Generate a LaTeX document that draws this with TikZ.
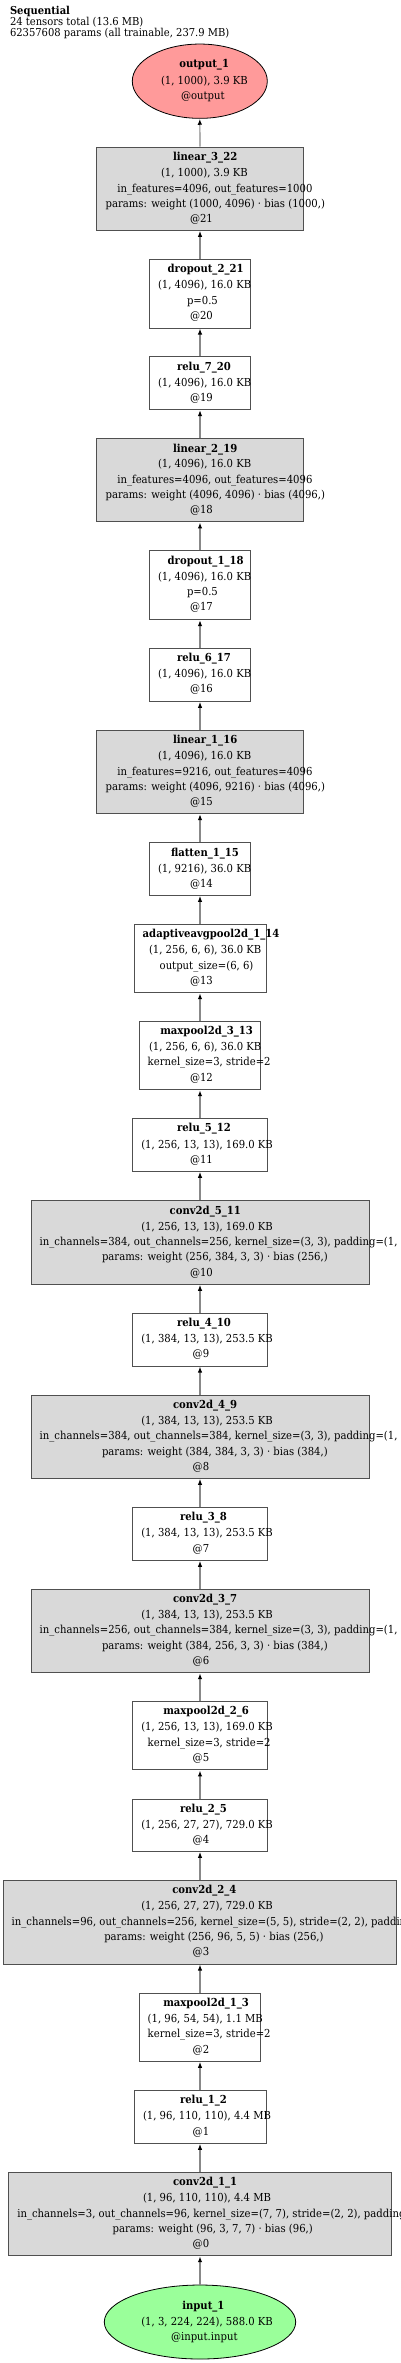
\documentclass[tikz,border=0pt]{standalone}
\usepackage{fontspec}
\setmainfont[FakeStretch=0.915]{DejaVu Serif}
\usetikzlibrary{shapes.geometric,arrows.meta}
\definecolor{outred}{HTML}{FF9A9A}
\definecolor{ingreen}{HTML}{9AFF9A}
\definecolor{grayfill}{HTML}{D9D9D9}
\definecolor{boxline}{HTML}{505050}
\definecolor{edgeline}{HTML}{888888}
\newcommand\nfs{\fontsize{11}{13}\selectfont}
\newcommand\hfs{\fontsize{10.9}{13}\selectfont}
\newcommand\tline[4]{\node[txt] (#1) at (#2,#3+3.6) {#4};}
\newcommand\bline[4]{\node[txt,font=\nfs\bfseries] (#1) at (#2,#3+3.6) {#4};}
\tikzset{
  txt/.style={anchor=base west, inner sep=0pt, outer sep=0pt, font=\nfs},
  boxbase/.style={rectangle, draw=boxline, line width=1pt, inner sep=0pt},
  gbox/.style={boxbase, fill=grayfill},
  wbox/.style={boxbase, fill=white},
  outnode/.style={ellipse, draw=black, line width=0.8pt, fill=outred, inner sep=0pt},
  innode/.style={ellipse, draw=black, line width=0.8pt, fill=ingreen, inner sep=0pt},
  edge/.style={draw=edgeline, line width=1.2pt, -{Latex[length=6pt,width=4.5pt,color=black]}}
}
\begin{document}
\begin{tikzpicture}[x=1pt,y=-1pt]
\useasboundingbox[fill=white] (0,0) rectangle (400,2363);
% header
\node[txt,font=\hfs\bfseries] (h1) at (10,11+3.6) {Sequential};
\node[txt,font=\hfs] (h2) at (10,22.3+3.6) {24 tensors total (13.6 MB)};
\node[txt,font=\hfs] (h3) at (10,33.3+3.6) {62357608 params (all trainable, 237.9 MB)};
% shapes
\node[outnode, minimum width=135pt, minimum height=74.3pt] (out) at (199.8,81.2) {};
\node[gbox, minimum width=206.6pt, minimum height=83.3pt] (l3) at (200,188.7) {};
\node[wbox, minimum width=101.4pt, minimum height=68.7pt] (d2) at (200,293.7) {};
\node[wbox, minimum width=101.4pt, minimum height=52.7pt] (r7) at (200,383.3) {};
\node[gbox, minimum width=206.6pt, minimum height=83.3pt] (l2) at (200,480.3) {};
\node[wbox, minimum width=101.4pt, minimum height=68.7pt] (d1) at (200,585.3) {};
\node[wbox, minimum width=101.4pt, minimum height=52.7pt] (r6) at (200,675) {};
\node[gbox, minimum width=206.6pt, minimum height=83.3pt] (l1) at (200,772) {};
\node[wbox, minimum width=101.4pt, minimum height=52.7pt] (fl) at (200,869) {};
\node[wbox, minimum width=132pt, minimum height=68.4pt] (ap) at (200,958.5) {};
\node[wbox, minimum width=121.4pt, minimum height=68pt] (m3) at (200,1055.7) {};
\node[wbox, minimum width=135pt, minimum height=52.6pt] (r5) at (200,1145) {};
\node[gbox, minimum width=338pt, minimum height=83.6pt] (c5) at (200,1242.5) {};
\node[wbox, minimum width=135pt, minimum height=52.7pt] (r4) at (200,1339.7) {};
\node[gbox, minimum width=338pt, minimum height=83.3pt] (c4) at (200,1436.7) {};
\node[wbox, minimum width=135pt, minimum height=53pt] (r3) at (200,1533.8) {};
\node[gbox, minimum width=338pt, minimum height=83.4pt] (c3) at (200,1631) {};
\node[wbox, minimum width=135pt, minimum height=68.3pt] (m2) at (200,1735.8) {};
\node[wbox, minimum width=135pt, minimum height=52.3pt] (r2) at (200,1825.2) {};
\node[gbox, minimum width=393.4pt, minimum height=83.7pt] (c2) at (200,1922.2) {};
\node[wbox, minimum width=121.4pt, minimum height=68pt] (m1) at (200,2027.3) {};
\node[wbox, minimum width=132pt, minimum height=53pt] (r1) at (200,2116.8) {};
\node[gbox, minimum width=383.4pt, minimum height=83.4pt] (c1) at (200,2214) {};
\node[innode, minimum width=191.4pt, minimum height=74pt] (in) at (200,2322) {};
% edges
\draw[edge] (l3.north) -- (out.south);
\draw[edge] (d2.north) -- (l3.south);
\draw[edge] (r7.north) -- (d2.south);
\draw[edge] (l2.north) -- (r7.south);
\draw[edge] (d1.north) -- (l2.south);
\draw[edge] (r6.north) -- (d1.south);
\draw[edge] (l1.north) -- (r6.south);
\draw[edge] (fl.north) -- (l1.south);
\draw[edge] (ap.north) -- (fl.south);
\draw[edge] (m3.north) -- (ap.south);
\draw[edge] (r5.north) -- (m3.south);
\draw[edge] (c5.north) -- (r5.south);
\draw[edge] (r4.north) -- (c5.south);
\draw[edge] (c4.north) -- (r4.south);
\draw[edge] (r3.north) -- (c4.south);
\draw[edge] (c3.north) -- (r3.south);
\draw[edge] (m2.north) -- (c3.south);
\draw[edge] (r2.north) -- (m2.south);
\draw[edge] (c2.north) -- (r2.south);
\draw[edge] (m1.north) -- (c2.south);
\draw[edge] (r1.north) -- (m1.south);
\draw[edge] (c1.north) -- (r1.south);
\draw[edge] (in.north) -- (c1.south);
% texts
\bline{out-a}{179.3}{64.3}{output\_1}
\tline{out-b}{161}{81}{(1, 1000), 3.9 KB}
\tline{out-c}{181}{96}{@output}

\bline{l3-a}{173}{156.7}{linear\_3\_22}
\tline{l3-b}{161}{173}{(1, 1000), 3.9 KB}
\tline{l3-c}{117.3}{188.7}{in\_features=4096, out\_features=1000}
\tline{l3-d}{105.7}{204}{params: weight (1000, 4096) · bias (1000,)}
\tline{l3-e}{190}{219.3}{@21}

\bline{d2-a}{167.7}{269}{dropout\_2\_21}
\tline{d2-b}{158}{285}{(1, 4096), 16.0 KB}
\tline{d2-c}{187}{300.7}{p=0.5}
\tline{d2-d}{190}{315.7}{@20}

\bline{r7-a}{177}{367}{relu\_7\_20}
\tline{r7-b}{158}{383}{(1, 4096), 16.0 KB}
\tline{r7-c}{190}{398}{@19}

\bline{l2-a}{173}{448.7}{linear\_2\_19}
\tline{l2-b}{158}{464.3}{(1, 4096), 16.0 KB}
\tline{l2-c}{117.3}{480}{in\_features=4096, out\_features=4096}
\tline{l2-d}{105.7}{495.3}{params: weight (4096, 4096) · bias (4096,)}
\tline{l2-e}{190}{510.3}{@18}

\bline{d1-a}{167.7}{560.7}{dropout\_1\_18}
\tline{d1-b}{158}{576.7}{(1, 4096), 16.0 KB}
\tline{d1-c}{187}{592.3}{p=0.5}
\tline{d1-d}{190}{607.3}{@17}

\bline{r6-a}{177}{658.3}{relu\_6\_17}
\tline{r6-b}{158}{674.3}{(1, 4096), 16.0 KB}
\tline{r6-c}{190}{689.3}{@16}

\bline{l1-a}{173}{740}{linear\_1\_16}
\tline{l1-b}{158}{756}{(1, 4096), 16.0 KB}
\tline{l1-c}{117.3}{771.7}{in\_features=9216, out\_features=4096}
\tline{l1-d}{105.7}{787}{params: weight (4096, 9216) · bias (4096,)}
\tline{l1-e}{190}{802}{@15}

\bline{fl-a}{171}{853}{flatten\_1\_15}
\tline{fl-b}{158}{869}{(1, 9216), 36.0 KB}
\tline{fl-c}{190}{884.3}{@14}

\bline{ap-a}{142.7}{934}{adaptiveavgpool2d\_1\_14}
\tline{ap-b}{149}{950}{(1, 256, 6, 6), 36.0 KB}
\tline{ap-c}{159.7}{965.7}{output\_size=(6, 6)}
\tline{ap-d}{190}{980.7}{@13}

\bline{m3-a}{160.3}{1031}{maxpool2d\_3\_13}
\tline{m3-b}{149}{1047}{(1, 256, 6, 6), 36.0 KB}
\tline{m3-c}{147.7}{1062.3}{kernel\_size=3, stride=2}
\tline{m3-d}{190}{1078}{@12}

\bline{r5-a}{177}{1128.3}{relu\_5\_12}
\tline{r5-b}{141.3}{1144.7}{(1, 256, 13, 13), 169.0 KB}
\tline{r5-c}{190}{1160}{@11}

\bline{c5-a}{169.7}{1210.7}{conv2d\_5\_11}
\tline{c5-b}{141.3}{1226.7}{(1, 256, 13, 13), 169.0 KB}
\tline{c5-c}{39.7}{1242}{in\_channels=384, out\_channels=256, kernel\_size=(3, 3), padding=(1, 1)}
\tline{c5-d}{102}{1257.3}{params: weight (256, 384, 3, 3) · bias (256,)}
\tline{c5-e}{190}{1272.7}{@10}

\bline{r4-a}{177}{1323.3}{relu\_4\_10}
\tline{r4-b}{141.3}{1339}{(1, 384, 13, 13), 253.5 KB}
\tline{r4-c}{192.7}{1354.3}{@9}

\bline{c4-a}{173}{1404.7}{conv2d\_4\_9}
\tline{c4-b}{141.3}{1420.7}{(1, 384, 13, 13), 253.5 KB}
\tline{c4-c}{39.7}{1436}{in\_channels=384, out\_channels=384, kernel\_size=(3, 3), padding=(1, 1)}
\tline{c4-d}{102}{1451.5}{params: weight (384, 384, 3, 3) · bias (384,)}
\tline{c4-e}{192.7}{1466.7}{@8}

\bline{r3-a}{180}{1517.3}{relu\_3\_8}
\tline{r3-b}{141.3}{1533.3}{(1, 384, 13, 13), 253.5 KB}
\tline{r3-c}{192.7}{1548.7}{@7}

\bline{c3-a}{173}{1599}{conv2d\_3\_7}
\tline{c3-b}{141.3}{1615}{(1, 384, 13, 13), 253.5 KB}
\tline{c3-c}{39.7}{1630.3}{in\_channels=256, out\_channels=384, kernel\_size=(3, 3), padding=(1, 1)}
\tline{c3-d}{102}{1645.7}{params: weight (384, 256, 3, 3) · bias (384,)}
\tline{c3-e}{192.7}{1661}{@6}

\bline{m2-a}{163.3}{1711}{maxpool2d\_2\_6}
\tline{m2-b}{141.3}{1727}{(1, 256, 13, 13), 169.0 KB}
\tline{m2-c}{147.7}{1742.7}{kernel\_size=3, stride=2}
\tline{m2-d}{192.7}{1757.7}{@5}

\bline{r2-a}{180}{1808.7}{relu\_2\_5}
\tline{r2-b}{141.3}{1824.7}{(1, 256, 27, 27), 729.0 KB}
\tline{r2-c}{192.7}{1840.3}{@4}

\bline{c2-a}{172.3}{1890.3}{conv2d\_2\_4}
\tline{c2-b}{141.3}{1906.3}{(1, 256, 27, 27), 729.0 KB}
\tline{c2-c}{11.7}{1922}{in\_channels=96, out\_channels=256, kernel\_size=(5, 5), stride=(2, 2), padding=(1, 1)}
\tline{c2-d}{104.3}{1937.3}{params: weight (256, 96, 5, 5) · bias (256,)}
\tline{c2-e}{192.7}{1952.3}{@3}

\bline{m1-a}{163.3}{2002.7}{maxpool2d\_1\_3}
\tline{m1-b}{147.7}{2018.7}{(1, 96, 54, 54), 1.1 MB}
\tline{m1-c}{147.7}{2034.3}{kernel\_size=3, stride=2}
\tline{m1-d}{192.7}{2049.7}{@2}

\bline{r1-a}{180}{2100}{relu\_1\_2}
\tline{r1-b}{143}{2116.3}{(1, 96, 110, 110), 4.4 MB}
\tline{r1-c}{192.7}{2131.7}{@1}

\bline{c1-a}{173}{2182}{conv2d\_1\_1}
\tline{c1-b}{143}{2198}{(1, 96, 110, 110), 4.4 MB}
\tline{c1-c}{17.3}{2213.7}{in\_channels=3, out\_channels=96, kernel\_size=(7, 7), stride=(2, 2), padding=(1, 1)}
\tline{c1-d}{112.7}{2229}{params: weight (96, 3, 7, 7) · bias (96,)}
\tline{c1-e}{192.7}{2244}{@0}

\bline{in-a}{182.3}{2305.7}{input\_1}
\tline{in-b}{141.3}{2322}{(1, 3, 224, 224), 588.0 KB}
\tline{in-c}{171}{2337}{@input.input}
\end{tikzpicture}
\end{document}
